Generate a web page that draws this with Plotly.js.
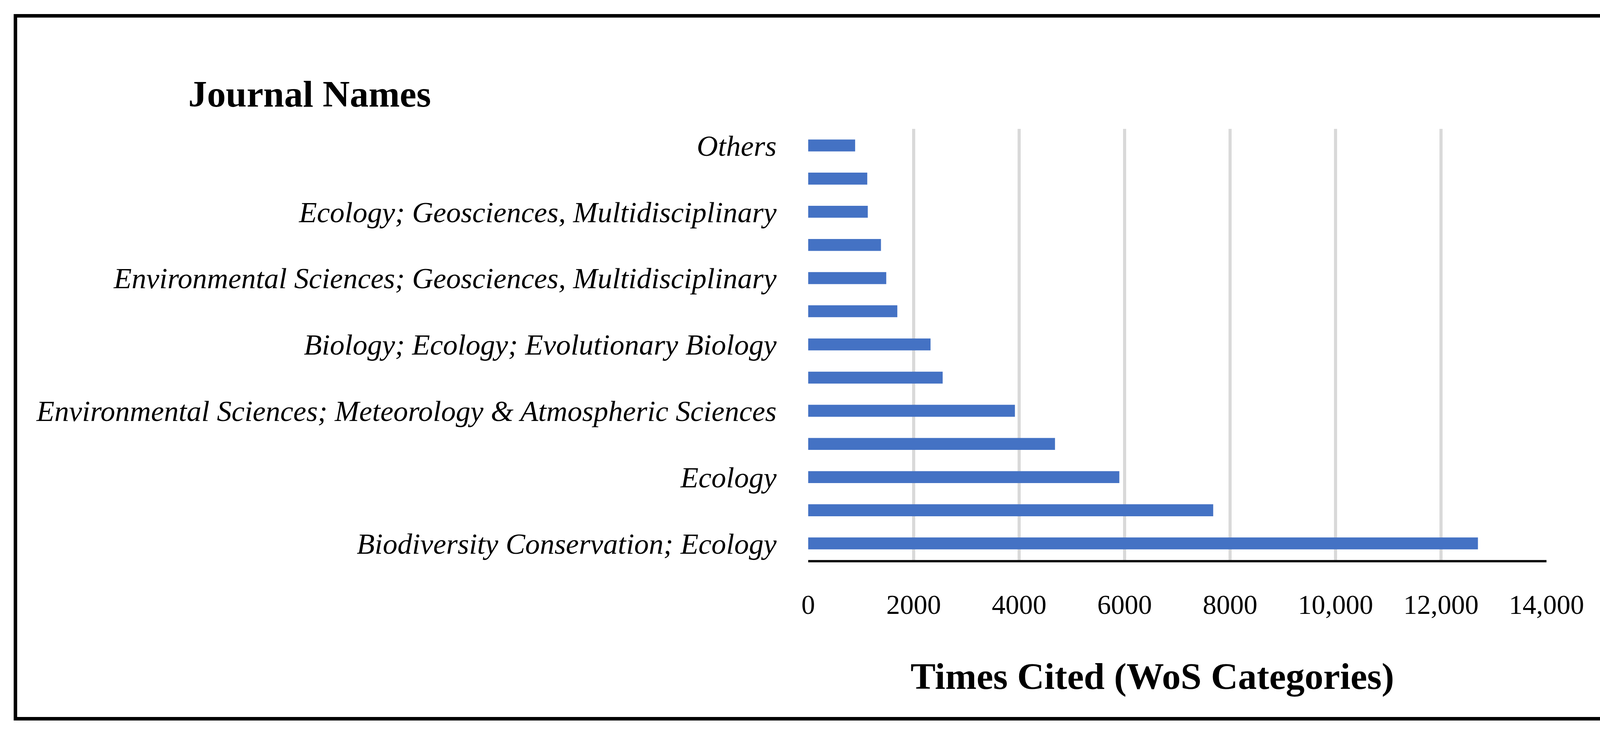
<!DOCTYPE html>
<html>
<head>
<meta charset="utf-8">
<script src="https://cdn.plot.ly/plotly-3.0.1.min.js"></script>
<style>
  html, body { margin: 0; padding: 0; background: #fff; }
  #wrap { position: relative; width: 4195px; height: 1877px; }
  #chart { position: absolute; left: 0; top: 0; width: 4195px; height: 1877px; }
  #frame { position: absolute; left: 35px; top: 36px; width: 4107px; height: 1791px;
           border: 9px solid #000; pointer-events: none; }
</style>
</head>
<body>
<div id="wrap">
  <div id="chart"></div>
  <div id="frame"></div>
</div>
<script>
// Categories from bottom to top (only every other one is labelled in the original)
const categories = [
  "Biodiversity Conservation; Ecology",
  "cat2",
  "Ecology",
  "cat4",
  "Environmental Sciences; Meteorology & Atmospheric Sciences",
  "cat6",
  "Biology; Ecology; Evolutionary Biology",
  "cat8",
  "Environmental Sciences; Geosciences, Multidisciplinary",
  "cat10",
  "Ecology; Geosciences, Multidisciplinary",
  "cat12",
  "Others"
];
const tickLabels = [
  "Biodiversity Conservation; Ecology",
  "",
  "Ecology",
  "",
  "Environmental Sciences; Meteorology & Atmospheric Sciences",
  "",
  "Biology; Ecology; Evolutionary Biology",
  "",
  "Environmental Sciences; Geosciences, Multidisciplinary",
  "",
  "Ecology; Geosciences, Multidisciplinary",
  "",
  "Others"
];
const timesCited = [12700, 7680, 5900, 4680, 3920, 2550, 2320, 1690, 1480, 1380, 1130, 1120, 890];

const xTickVals = [0, 2000, 4000, 6000, 8000, 10000, 12000, 14000];
const xTickText = ["0", "2000", "4000", "6000", "8000", "10,000", "12,000", "14,000"];

const serif = "Liberation Serif, Times New Roman, serif";

const trace = {
  type: "bar",
  orientation: "h",
  x: timesCited,
  y: categories,
  marker: { color: "#4472C4" },
  hoverinfo: "x+y"
};

const layout = {
  width: 4195,
  height: 1877,
  margin: { l: 2069, r: 236, t: 330, b: 443 },
  paper_bgcolor: "#ffffff",
  plot_bgcolor: "#ffffff",
  bargap: 0.64,
  showlegend: false,
  xaxis: {
    range: [0, 14000],
    tickvals: xTickVals,
    ticktext: xTickText,
    showgrid: true,
    gridcolor: "#d9d9d9",
    gridwidth: 8,
    zeroline: false,
    showline: true,
    linecolor: "#0d0d0d",
    linewidth: 6,
    ticks: "",
    ticklabelstandoff: 48,
    tickfont: { family: serif, size: 70, color: "#000" },
    fixedrange: true
  },
  yaxis: {
    type: "category",
    categoryorder: "array",
    categoryarray: categories,
    tickvals: categories,
    ticktext: tickLabels,
    showgrid: false,
    zeroline: false,
    showline: false,
    ticks: "",
    ticklabelstandoff: 80,
    tickfont: { family: serif, size: 75, color: "#000", style: "italic" },
    fixedrange: true
  },
  annotations: [
    {
      text: "<b>Journal Names</b>",
      xref: "paper", yref: "paper",
      x: -0.8407, y: 1.0,
      xanchor: "left", yanchor: "bottom",
      yshift: 34,
      showarrow: false,
      font: { family: serif, size: 96, color: "#000" }
    },
    {
      text: "<b>Times Cited (WoS Categories)</b>",
      xref: "paper", yref: "paper",
      x: 0.466, y: 0,
      xanchor: "center", yanchor: "middle",
      yshift: -297,
      showarrow: false,
      font: { family: serif, size: 96, color: "#000" }
    }
  ]
};

Plotly.newPlot("chart", [trace], layout, { staticPlot: true, displayModeBar: false });
</script>
</body>
</html>
